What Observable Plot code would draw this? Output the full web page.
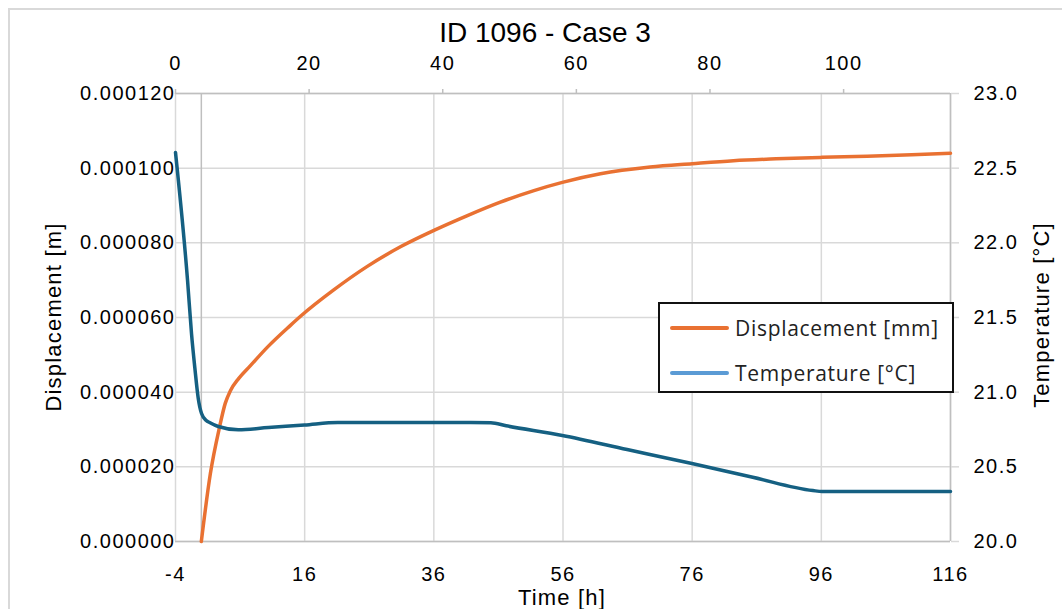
<!DOCTYPE html>
<html><head><meta charset="utf-8">
<script src="https://cdn.jsdelivr.net/npm/d3@7"></script>
<script src="https://cdn.jsdelivr.net/npm/@observablehq/plot@0.6"></script>
<style>
body{margin:0;background:#fff;overflow:hidden;}
#wrap{position:relative;width:1062px;height:609px;overflow:hidden;font-family:"Liberation Sans",Arial,sans-serif;color:#000;}
#frame{position:absolute;left:8px;top:8px;width:1100px;height:700px;border:2px solid #d9d9d9;box-sizing:border-box;}
.layer{position:absolute;left:0;top:0;}
.ttl{position:absolute;white-space:nowrap;line-height:1;}
#legend{position:absolute;left:658px;top:302px;width:296px;height:91px;border:2px solid #111;box-sizing:border-box;background:#fff;font-family:"Open Sans",sans-serif;font-size:21px;letter-spacing:0.7px;color:#222;}
.li{position:absolute;left:0;height:30px;}
.sw{position:absolute;left:10px;width:59px;height:4px;border-radius:2px;top:13px;}
.lt{position:absolute;left:75px;top:0;line-height:30px;white-space:nowrap;}
</style></head>
<body>
<div id="wrap">
  <div id="frame"></div>
  <div id="p1" class="layer"></div>
  <div id="p2" class="layer"></div>
</div>
<script>
// ---- data ----
const title = "ID 1096 - Case 3";
const xTitle = "Time [h]";
const yLeftTitle = "Displacement  [m]";
const yRightTitle = "Temperature [°C]";
const seriesNames = ["Displacement [mm]", "Temperature [°C]"];

// Displacement (primary axes: bottom time, left displacement)
const dispTime = [0, 1.4, 2.8, 3.7, 4.5, 5.8, 7.6, 10.2, 13.8, 15.4, 20.5, 25.7, 30.9, 36.1, 41.2, 46.3, 51.5, 55.9, 61.8, 69.5, 76.0, 82.4, 89.0, 96.1, 103.1, 110.0, 116.0];
const dispValue = [0, 0.0000182, 0.0000305, 0.0000370, 0.0000404, 0.0000437, 0.0000471, 0.0000520, 0.0000579, 0.0000604, 0.0000674, 0.0000737, 0.0000790, 0.0000834, 0.0000873, 0.0000909, 0.0000940, 0.0000962, 0.0000985, 0.0001003, 0.0001012, 0.0001020, 0.0001025, 0.0001029, 0.0001032, 0.0001036, 0.0001040];

// Temperature (secondary axes: top time, right temperature)
const tempTime = [0, 1.8, 2.4, 2.9, 3.4, 3.9, 4.6, 5.1, 6.4, 9.4, 13.9, 19.3, 24.3, 33.7, 44.2, 47.2, 49.5, 57.9, 67.6, 77.3, 86.4, 95.4, 96.8, 105, 116];
const tempValue = [22.605, 21.75, 21.39, 21.16, 20.96, 20.857, 20.81, 20.797, 20.77, 20.748, 20.763, 20.78, 20.797, 20.797, 20.797, 20.795, 20.775, 20.71, 20.616, 20.522, 20.43, 20.341, 20.335, 20.335, 20.335];

const bottomTicks = [-4, 16, 36, 56, 76, 96, 116];
const topTicks = [0, 20, 40, 60, 80, 100];
const dispTicks = [0, 0.00002, 0.00004, 0.00006, 0.00008, 0.0001, 0.00012];
const tempTicks = [20, 20.5, 21, 21.5, 22, 22.5, 23];

// ---- styling ----
const orange = "#E97132", teal = "#156082", legendBlue = "#5B9BD5";
const gridCol = "#d9d9d9", axisCol = "#bfbfbf";
const W = 1062, H = 609;
const frame = {width: W, height: H, marginLeft: 175, marginRight: 112, marginTop: 93, marginBottom: 68};
const style = {fontFamily: "Liberation Sans, Arial, sans-serif", fontSize: "20px", color: "#000", background: "transparent", letterSpacing: "1.5px", overflow: "visible"};

const dispRows = dispTime.map((t, i) => ({t, v: dispValue[i]}));
const tempRows = tempTime.map((t, i) => ({t, v: tempValue[i]}));

const p1 = Plot.plot({
  ...frame, style,
  x: {domain: [-4, 116]},
  y: {domain: [0, 0.00012]},
  marks: [
    Plot.gridX(bottomTicks, {stroke: gridCol, strokeOpacity: 1, strokeWidth: 1.5}),
    Plot.gridY(dispTicks, {stroke: gridCol, strokeOpacity: 1, strokeWidth: 1.5}),
    Plot.ruleX([0, 116], {stroke: axisCol, strokeWidth: 1.5}),
    Plot.ruleY([0, 0.00012], {stroke: axisCol, strokeWidth: 1.5}),
    Plot.axisX(bottomTicks, {anchor: "bottom", tickSize: 0, tickPadding: 25, tickFormat: d => String(d), label: null, fill: "#000"}),
    Plot.axisY(dispTicks, {anchor: "left", tickSize: 0, tickPadding: 0, tickFormat: d3.format(".6f"), label: null, fill: "#000"}),
    Plot.line(dispRows, {x: "t", y: "v", stroke: orange, strokeWidth: 3.5, curve: "monotone-x"})
  ]
});
document.getElementById("p1").append(p1);

const p2 = Plot.plot({
  ...frame, style,
  x: {domain: [0, 116]},
  y: {domain: [20, 23]},
  marks: [
    Plot.axisX(topTicks, {anchor: "top", tickSize: 5, tickPadding: 19, stroke: axisCol, strokeWidth: 1.5, fill: "#000", tickFormat: d => String(d), label: null}),
    Plot.axisY(tempTicks, {anchor: "right", tickSize: 8, tickPadding: 15, stroke: gridCol, strokeWidth: 1.5, fill: "#000", tickFormat: d3.format(".1f"), label: null}),
    Plot.line(tempRows, {x: "t", y: "v", stroke: teal, strokeWidth: 3.5, curve: "monotone-x"})
  ]
});
document.getElementById("p2").append(p2);

// ---- titles ----
const wrap = document.getElementById("wrap");
function addText(txt, css) {
  const d = document.createElement("div");
  d.className = "ttl";
  d.textContent = txt;
  Object.assign(d.style, css);
  wrap.append(d);
  return d;
}
addText(title, {left: "545px", top: "19px", fontSize: "28px", transform: "translateX(-50%)"});
addText(xTitle, {left: "562px", top: "587px", fontSize: "22px", letterSpacing: "1.2px", transform: "translateX(-50%)"});
addText(yLeftTitle, {left: "54px", top: "317px", fontSize: "22px", letterSpacing: "1.2px", transform: "translate(-50%,-50%) rotate(-90deg)"});
addText(yRightTitle, {left: "1042px", top: "315px", fontSize: "22px", letterSpacing: "1.2px", transform: "translate(-50%,-50%) rotate(-90deg)"});

// ---- legend ----
const leg = document.createElement("div");
leg.id = "legend";
[[seriesNames[0], orange, 9], [seriesNames[1], legendBlue, 54]].forEach(([name, col, top]) => {
  const it = document.createElement("div");
  it.className = "li";
  it.style.top = top + "px";
  it.innerHTML = `<div class="sw" style="background:${col}"></div><div class="lt">${name}</div>`;
  leg.append(it);
});
wrap.append(leg);
</script>
</body></html>
